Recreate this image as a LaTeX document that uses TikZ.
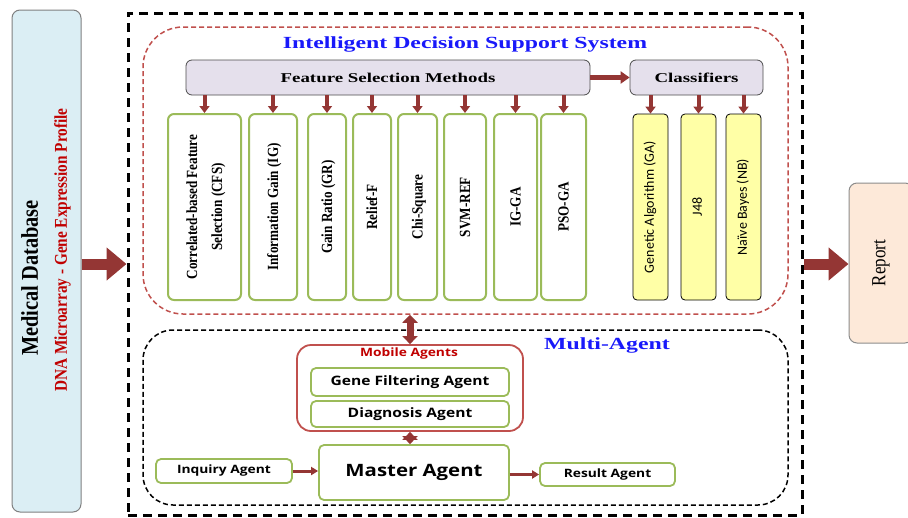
\documentclass[tikz,border=0pt]{standalone}
\usepackage{fontspec}
\setmainfont{Liberation Serif}
\newfontfamily\widefont[FakeStretch=1.4]{Liberation Serif}
\newfontfamily\narrowfont[FakeStretch=0.85]{Liberation Serif}
\newfontfamily\agentfont[FakeStretch=1.2]{Open Sans}
\newfontfamily\clsfont{Carlito}
\usepackage{graphicx}
\usepackage{tikz}
\usetikzlibrary{arrows.meta}

\definecolor{arrowred}{RGB}{148,54,52}
\definecolor{fsgreen}{RGB}{155,187,89}
\definecolor{mobred}{RGB}{192,80,77}
\definecolor{fslav}{RGB}{229,224,236}
\definecolor{clsyellow}{RGB}{255,255,166}
\definecolor{dbblue}{RGB}{219,238,244}
\definecolor{reppeach}{RGB}{253,233,217}
\definecolor{titleblue}{RGB}{25,25,250}
\definecolor{dnared}{RGB}{192,0,0}

\newcommand{\vtext}[1]{\rotatebox{90}{\begin{tabular}{@{}c@{}}#1\end{tabular}}}

\tikzset{
  fsbox/.style={draw=fsgreen, line width=2pt, rounded corners=6pt, fill=white, inner sep=0pt,
    minimum height=186pt, font=\narrowfont\bfseries\fontsize{15.5}{25}\selectfont},
  clsbox/.style={draw=black, line width=0.8pt, rounded corners=4pt, fill=clsyellow, inner sep=0pt,
    minimum width=35pt, minimum height=186pt, font=\clsfont\fontsize{14}{17}\selectfont},
  headbox/.style={draw=black!70, line width=0.8pt, rounded corners=6pt, fill=fslav, inner sep=0pt,
    minimum height=35pt, font=\widefont\bfseries\fontsize{13.5}{16}\selectfont},
  agentbox/.style={draw=fsgreen, line width=1.8pt, rounded corners=5pt, fill=white, inner sep=0pt},
  titletext/.style={text=titleblue, font=\widefont\bfseries\fontsize{17}{20}\selectfont},
  bigarrow/.style={draw=arrowred, line width=11pt, -{Triangle[width=32pt,length=20pt]}},
  midarrow/.style={draw=arrowred, line width=5pt, -{Triangle[width=12pt,length=9pt]}},
  smallarrow/.style={draw=arrowred, line width=4pt, -{Triangle[width=10pt,length=7pt]}},
  thinarrow/.style={draw=arrowred, line width=3pt, -{Triangle[width=8pt,length=7pt]}},
  dblarrow/.style={draw=arrowred, line width=7pt, {Triangle[width=15pt,length=8pt]}-{Triangle[width=15pt,length=8pt]}}
}

\begin{document}
\begin{tikzpicture}[x=1pt, y=-1pt]
\useasboundingbox (0,0) rectangle (908,517);
\clip (0,0) rectangle (908,517);
%%% The input database and the report
\node[draw=black!50, line width=1pt, rounded corners=8pt, fill=dbblue, inner sep=0pt,
  minimum width=69pt, minimum height=502pt] (db) at (46.5,261)
  {\fontsize{20}{29}\selectfont\vtext{{\narrowfont\bfseries\fontsize{24}{29}\selectfont Medical Database}\hspace*{34pt}\\
   \hspace*{22pt}{\narrowfont\bfseries\color{dnared}\fontsize{18}{29}\selectfont DNA Microarray - Gene Expression Profile}}};
\node[draw=black!45, line width=1pt, rounded corners=8pt, fill=reppeach, inner sep=0pt,
  minimum width=64pt, minimum height=160pt] (report) at (881,263)
  {\vtext{\narrowfont\fontsize{20}{24}\selectfont Report}};
%%% The whole system
\node[draw=black, line width=3pt, dash pattern=on 9pt off 6pt, minimum width=674pt,
  minimum height=502pt, inner sep=0pt] (outer) at (465,264) {};
\node[draw=mobred, line width=1.5pt, dash pattern=on 5pt off 3pt, rounded corners=40pt,
  minimum width=645pt, minimum height=287pt, inner sep=0pt] (idss) at (465.5,170.5) {};
\node[draw=black, line width=1.5pt, dash pattern=on 5pt off 3pt, rounded corners=30pt,
  minimum width=645pt, minimum height=175pt, inner sep=0pt] (multi) at (465.5,417.5) {};
\node[titletext] (idsstitle) at (465,44) {Intelligent Decision Support System};
\node[titletext] (multititle) at (607,345) {Multi-Agent};
%%% Feature selection methods
\node[headbox, minimum width=404pt] (fsm) at (388,77.5) {Feature Selection Methods};
\node[fsbox, minimum width=73pt] (cfs) at (204.5,207) {\vtext{Correlated-based Feature\\Selection (CFS)}};
\node[fsbox, minimum width=48pt] (ig) at (273,207) {\vtext{Information Gain (IG)}};
\node[fsbox, minimum width=38pt] (gr) at (327,207) {\vtext{Gain Ratio (GR)}};
\node[fsbox, minimum width=38pt] (relief) at (372,207) {\vtext{Relief-F}};
\node[fsbox, minimum width=39pt] (chi) at (417.5,207) {\vtext{Chi-Square}};
\node[fsbox, minimum width=42pt] (svm) at (465,207) {\vtext{SVM-REF}};
\node[fsbox, minimum width=43pt] (igga) at (515.5,207) {\vtext{IG-GA}};
\node[fsbox, minimum width=45pt] (psoga) at (563.5,207) {\vtext{PSO-GA}};
%%% Classifiers
\node[headbox, minimum width=133pt] (cls) at (696.5,77.5) {Classifiers};
\node[clsbox] (ga) at (650.5,207) {\vtext{Genetic Algorithm (GA)}};
\node[clsbox] (jfe) at (698.5,207) {\vtext{J48}};
\node[clsbox] (nb) at (743.5,207) {\vtext{Naïve Bayes (NB)}};
%%% The agents
\node[draw=mobred, line width=1.8pt, rounded corners=14pt, minimum width=226pt,
  minimum height=86pt, inner sep=0pt] (mobile) at (410,388) {};
\node[text=dnared, font=\agentfont\bfseries\fontsize{11.5}{14}\selectfont] (mobiletitle) at (409,354) {Mobile Agents};
\node[agentbox, minimum width=198pt, minimum height=28pt, font=\agentfont\bfseries\fontsize{13}{16}\selectfont] (gfa) at (410,382) {Gene Filtering Agent};
\node[agentbox, minimum width=198pt, minimum height=26pt, font=\agentfont\bfseries\fontsize{13}{16}\selectfont] (diag) at (410,414) {Diagnosis Agent};
\node[agentbox, minimum width=190pt, minimum height=55pt, font=\agentfont\bfseries\fontsize{17}{20}\selectfont] (master) at (414,472.5) {Master Agent};
\node[agentbox, minimum width=136pt, minimum height=24pt, font=\agentfont\bfseries\fontsize{11.5}{14}\selectfont] (inquiry) at (224,471) {Inquiry Agent};
\node[agentbox, minimum width=135pt, minimum height=23pt, font=\agentfont\bfseries\fontsize{11.5}{14}\selectfont] (result) at (607.5,474.5) {Result Agent};
%%%%%% The arrows
\draw[bigarrow] (db.east |- outer.west) -- (outer.west);
\draw[bigarrow] (outer.east) -- (outer.east -| report.west);
\draw[midarrow] (fsm.east) -- (cls.west);
\foreach \n in {cfs,ig,gr,relief,chi,svm,igga,psoga}
  \draw[smallarrow] (fsm.south -| \n.north) -- (\n.north);
\foreach \n in {ga,jfe,nb}
  \draw[smallarrow] (cls.south -| \n.north) -- (\n.north);
\draw[dblarrow] (idss.south -| mobile.north) -- (mobile.north);
\draw[dblarrow] (mobile.south) -- (mobile.south |- master.north);
\draw[thinarrow] (inquiry.east) -- (inquiry.east -| master.west);
\draw[thinarrow] (master.east |- result.west) -- (result.west);
\end{tikzpicture}
\end{document}
